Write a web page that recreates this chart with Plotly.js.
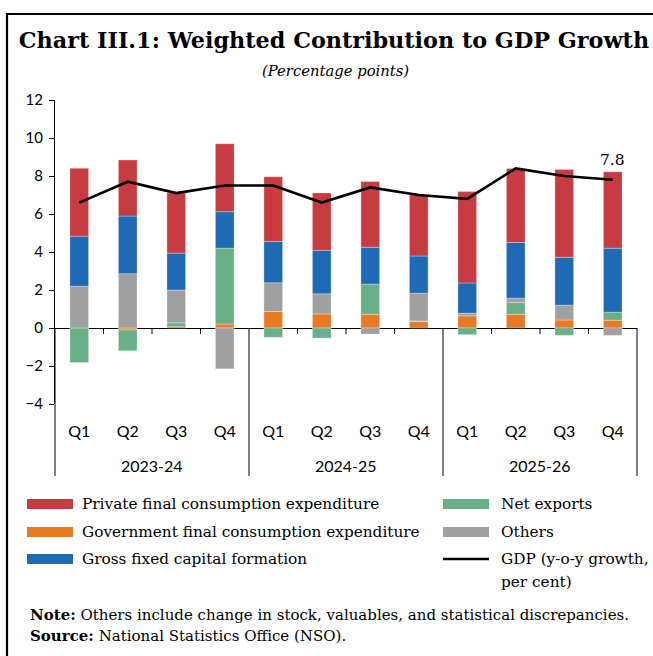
<!DOCTYPE html>
<html><head><meta charset="utf-8">
<script src="https://cdn.plot.ly/plotly-3.0.1.min.js"></script>
<style>html,body{margin:0;padding:0;background:#fff}</style>
</head><body><div id="chart" style="width:653px;height:656px"></div>
<script>
// ---------- data ----------
const fiscalYears = ['2023-24', '2024-25', '2025-26'];
const quarterLabels = ['Q1', 'Q2', 'Q3', 'Q4'];
const pfce   = [3.58, 2.95, 3.16, 3.58, 3.41, 3.02, 3.46, 3.21, 4.81, 3.90, 4.62, 4.02];
const gfce   = [0.00, -0.10, 0.07, 0.21, 0.87, 0.74, 0.72, 0.34, 0.64, 0.72, 0.42, 0.41];
const gfcf   = [2.63, 3.03, 1.94, 1.92, 2.17, 2.29, 1.94, 1.96, 1.59, 2.93, 2.52, 3.37];
const netExp = [-1.82, -1.10, 0.20, 3.99, -0.49, -0.53, 1.59, 0.03, -0.35, 0.62, -0.39, 0.42];
const others = [2.20, 2.86, 1.73, -2.15, 1.51, 1.06, -0.32, 1.46, 0.14, 0.23, 0.78, -0.39];
const gdp    = [6.6, 7.7, 7.1, 7.5, 7.5, 6.6, 7.4, 7.0, 6.8, 8.4, 8.0, 7.8];
const seriesNames = ['Private final consumption expenditure', 'Government final consumption expenditure',
  'Gross fixed capital formation', 'Net exports', 'Others', 'GDP (y-o-y growth,<br>per cent)'];
const titleText = 'Chart III.1: Weighted Contribution to GDP Growth';
const subtitleText = '(Percentage points)';
const noteText = '<b>Note:</b> Others include change in stock, valuables, and statistical discrepancies.';
const sourceText = '<b>Source:</b> National Statistics Office (NSO).';

// ---------- build ----------
const xKey = [], xQ = [];
fiscalYears.forEach(fy => quarterLabels.forEach(q => { xKey.push(fy + ' ' + q); xQ.push(q); }));
const colors = {pfce:'#C73C40', gfce:'#E97A24', gfcf:'#1E6AB4', nx:'#69B088', oth:'#A0A0A0'};

function bar(name, vals, color) {
  return {type:'bar', name, x:xKey, y:vals, marker:{color, line:{color:'rgba(255,255,255,0.5)', width:0.6}},
          showlegend:false, hovertemplate:'%{y}<extra>'+name+'</extra>'};
}
const traces = [
  bar(seriesNames[1], gfce, colors.gfce),
  bar(seriesNames[3], netExp, colors.nx),
  bar(seriesNames[4], others, colors.oth),
  bar(seriesNames[2], gfcf, colors.gfcf),
  bar(seriesNames[0], pfce, colors.pfce),
  {type:'scatter', mode:'lines', name:'GDP', x:xKey, y:gdp, line:{color:'#000', width:2.6}, showlegend:false}
];

const W = 653, H = 656, L = 55, R = 16, T = 100, B = 252;
const PW = W - L - R, PH = H - T - B;
const px = v => (v - L) / PW;
const py = v => (H - B - v) / PH;
const yZero = 4 / 16;
const n = xKey.length;

const shapes = [];
for (let k = 0; k <= n; k += 4) {
  shapes.push({type:'line', xref:'paper', yref:'paper', x0:k/n, x1:k/n, y0:yZero, y1:py(476), line:{color:'#000', width:1}});
}
for (let k = 1; k < n; k++) {
  if (k % 4 === 0) continue;
  shapes.push({type:'line', xref:'paper', yref:'paper', x0:k/n, x1:k/n, y0:yZero, y1:yZero - 6/PH, line:{color:'#000', width:1}});
}
shapes.push({type:'line', xref:'paper', yref:'paper', x0:px(6), x1:px(660), y0:py(14), y1:py(14), line:{color:'#000', width:2.2}});
shapes.push({type:'line', xref:'paper', yref:'paper', x0:px(7), x1:px(7), y0:py(13), y1:py(660), line:{color:'#000', width:2.2}});

const annotations = [];
const serif = 'DejaVu Serif';
const legFont = {family:serif, size:15.3, color:'#000'};
const legendItems = [
  {col:0, row:0, color:colors.pfce, text:seriesNames[0]},
  {col:0, row:1, color:colors.gfce, text:seriesNames[1]},
  {col:0, row:2, color:colors.gfcf, text:seriesNames[2]},
  {col:1, row:0, color:colors.nx, text:seriesNames[3]},
  {col:1, row:1, color:colors.oth, text:seriesNames[4]},
  {col:1, row:2, color:'#000', text:seriesNames[5], line:true}
];
const rowY = [504, 532, 559];
const colX = [[27, 73, 80], [443, 489, 499]];
legendItems.forEach(it => {
  const [s0, s1, tx] = colX[it.col];
  const yc = rowY[it.row];
  if (it.line) {
    shapes.push({type:'line', xref:'paper', yref:'paper', x0:px(s0), x1:px(s1), y0:py(yc), y1:py(yc), line:{color:'#000', width:2.6}});
  } else {
    shapes.push({type:'rect', xref:'paper', yref:'paper', x0:px(s0), x1:px(s1), y0:py(yc - 5), y1:py(yc + 5), line:{width:0}, fillcolor:it.color});
  }
  it.text.split('<br>').forEach((ln, i) => {
    annotations.push({xref:'paper', yref:'paper', x:px(tx), y:py(yc + 23 * i), xanchor:'left', yanchor:'middle',
      text:ln, showarrow:false, font:legFont});
  });
});
fiscalYears.forEach((fy, i) => {
  annotations.push({xref:'paper', yref:'paper', x:(2 * i + 1) / 6, y:py(465), xanchor:'center', yanchor:'middle',
    text:fy, showarrow:false, font:{family:'Lato', size:16, color:'#000'}});
});
annotations.push({xref:'paper', yref:'paper', x:px(335), y:py(71), xanchor:'center', yanchor:'middle',
  text:'<i>' + subtitleText + '</i>', showarrow:false, font:{family:serif, size:14.8, color:'#000'}});
annotations.push({xref:'paper', yref:'paper', x:px(28), y:py(615), xanchor:'left', yanchor:'middle',
  text:noteText, showarrow:false, font:{family:serif, size:15, color:'#000'}});
annotations.push({xref:'paper', yref:'paper', x:px(28), y:py(636), xanchor:'left', yanchor:'middle',
  text:sourceText, showarrow:false, font:{family:serif, size:15, color:'#000'}});
annotations.push({x:xKey[n-1], y:gdp[n-1], xref:'x', yref:'y', text:gdp[n-1].toFixed(1),
  showarrow:false, yshift:20, font:{family:serif, size:15.5, color:'#000'}});

const layout = {
  width:W, height:H, margin:{l:L, r:R, t:T, b:B}, paper_bgcolor:'#fff', plot_bgcolor:'#fff',
  barmode:'relative', bargap:0.615, showlegend:false,
  title:{text:'<b>' + titleText + '</b>', xref:'paper', yref:'container', x:px(334), xanchor:'center',
         y:1 - 40/H, yanchor:'middle', font:{family:serif, size:22.3, color:'#000'}},
  xaxis:{type:'category', tickvals:xKey, ticktext:xQ, ticks:'outside', ticklen:13, tickcolor:'rgba(0,0,0,0)',
         showline:false, showgrid:false, zeroline:false, tickfont:{family:'Lato', size:16, color:'#000'}},
  yaxis:{range:[-4, 12], tickvals:[-4,-2,0,2,4,6,8,10,12], ticks:'outside', ticklen:5, tickcolor:'#000',
         showline:true, linecolor:'#000', linewidth:1, showgrid:false, zeroline:true, zerolinecolor:'#000',
         zerolinewidth:1, tickfont:{family:'Lato', size:15, color:'#000'}, ticklabelstandoff:3},
  shapes, annotations
};
Plotly.newPlot('chart', traces, layout, {displayModeBar:false, staticPlot:true});
</script></body></html>
